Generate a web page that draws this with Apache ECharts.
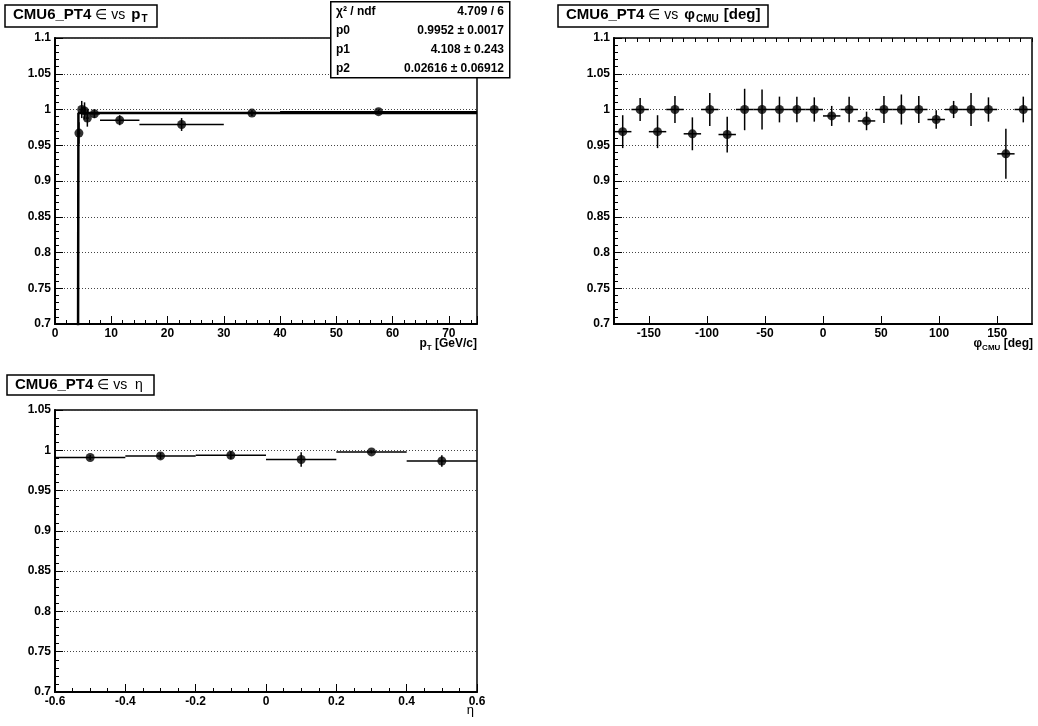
<!DOCTYPE html>
<html>
<head>
<meta charset="utf-8">
<script src="https://cdn.jsdelivr.net/npm/echarts@6/dist/echarts.min.js"></script>
<style>html,body{margin:0;padding:0;background:#fff}#c{width:1038px;height:726px}</style>
</head>
<body>
<div id="c"></div>
<script>
// ---- data: efficiency vs pT ----
const ptCenter = [4.25, 4.75, 5.25, 5.75, 7.0, 11.5, 22.5, 35, 57.5];
const ptLow    = [4.0, 4.5, 5.0, 5.5, 6.0, 8.0, 15.0, 30.0, 40.0];
const ptHigh   = [4.5, 5.0, 5.5, 6.0, 8.0, 15.0, 30.0, 40.0, 75.0];
const ptEff    = [0.967, 1.000, 0.998, 0.988, 0.994, 0.985, 0.979, 0.995, 0.997];
const ptErr    = [0.015, 0.012, 0.012, 0.012, 0.006, 0.007, 0.009, 0.004, 0.003];
// fit curve (step at p1, plateau p0)
const fitCurve = [[4.06, 0.5], [4.16, 0.9952], [75, 0.9952]];
const fitRows = [["χ² / ndf", "4.709 / 6"], ["p0", "0.9952 ± 0.0017"], ["p1", "4.108 ± 0.243"], ["p2", "0.02616 ± 0.06912"]];

// ---- data: efficiency vs phi_CMU ----
const phiCenter = [-172.5,-157.5,-142.5,-127.5,-112.5,-97.5,-82.5,-67.5,-52.5,-37.5,-22.5,-7.5,7.5,22.5,37.5,52.5,67.5,82.5,97.5,112.5,127.5,142.5,157.5,172.5];
const phiEff = [0.969,1.000,0.969,1.000,0.966,1.000,0.965,1.000,1.000,1.000,1.000,1.000,0.991,1.000,0.984,1.000,1.000,1.000,0.986,1.000,1.000,1.000,0.938,1.000];
const phiErr = [0.023,0.016,0.023,0.019,0.023,0.023,0.025,0.029,0.028,0.018,0.018,0.017,0.014,0.018,0.013,0.019,0.021,0.019,0.013,0.012,0.023,0.017,0.035,0.018];
const phiHalfWidth = 7.5;

// ---- data: efficiency vs eta ----
const etaCenter = [-0.5, -0.3, -0.1, 0.1, 0.3, 0.5];
const etaEff = [0.991, 0.993, 0.9938, 0.9885, 0.998, 0.9867];
const etaErr = [0.003, 0.004, 0.005, 0.009, 0.002, 0.007];
const etaHalfWidth = 0.1;

// ---- tick labels ----
const phiMajorTicks = [-150, -100, -50, 0, 50, 100, 150];

const FONT = "Liberation Sans";
const fmt = v => String(+(+v).toFixed(3));

function errRender(params, api) {
  const x = api.value(0), y = api.value(1), xl = api.value(2), xh = api.value(3), e = api.value(4);
  const pL = api.coord([xl, y]), pH = api.coord([xh, y]);
  const pT = api.coord([x, y + e]), pB = api.coord([x, y - e]);
  const st = { stroke: '#000', lineWidth: 1.5 };
  return { type: 'group', children: [
    { type: 'line', shape: { x1: pL[0], y1: pL[1], x2: pH[0], y2: pH[1] }, style: st },
    { type: 'line', shape: { x1: pT[0], y1: pT[1], x2: pB[0], y2: pB[1] }, style: st }
  ]};
}

const ptErrData = ptCenter.map((x, i) => [x, ptEff[i], ptLow[i], ptHigh[i], ptErr[i]]);
const phiErrData = phiCenter.map((x, i) => [x, phiEff[i], x - phiHalfWidth, x + phiHalfWidth, phiErr[i]]);
const etaErrData = etaCenter.map((x, i) => [x, etaEff[i], x - etaHalfWidth, x + etaHalfWidth, etaErr[i]]);

const axLabel = { color: '#000', fontFamily: FONT, fontWeight: 'bold', fontSize: 12, margin: 4, formatter: fmt };
const axLine = { show: true, onZero: false, lineStyle: { color: '#000', width: 2 } };
const tick = { show: true, inside: true, length: 8, lineStyle: { color: '#000', width: 1 } };
const minor = (n) => ({ show: true, splitNumber: n, length: 4, lineStyle: { color: '#000', width: 1 } });
const gridDots = { show: true, lineStyle: { color: '#444', width: 1, type: [1, 2] } };

function yAx(grid, max) {
  return { type: 'value', gridIndex: grid, min: 0.7, max: max, interval: 0.05,
    axisLine: axLine, axisTick: tick, minorTick: minor(5), axisLabel: axLabel,
    splitLine: gridDots };
}

const titleBox = { backgroundColor: '#fff', borderColor: '#000', borderWidth: 1.5, padding: [3, 8, 3, 8] };
const titleRich = {
  b: { fontFamily: FONT, fontWeight: 'bold', fontSize: 15, color: '#000', lineHeight: 18 },
  bp: { fontFamily: FONT, fontWeight: 'bold', fontSize: 15, color: '#000', lineHeight: 18, padding: [0, 0, 0, 3] },
  s: { fontFamily: FONT, fontWeight: 'normal', fontSize: 14, color: '#000', lineHeight: 18, padding: [0, 3, 0, 4] },
  sub: { fontFamily: FONT, fontWeight: 'bold', fontSize: 10, color: '#000', lineHeight: 18, verticalAlign: 'bottom', padding: [0, 2, 0, 1] }
};
const axRich = {
  b: { fontFamily: FONT, fontWeight: 'bold', fontSize: 12, color: '#000', lineHeight: 16 },
  sub: { fontFamily: FONT, fontWeight: 'bold', fontSize: 8, color: '#000', lineHeight: 16, verticalAlign: 'bottom' },
  n: { fontFamily: FONT, fontWeight: 'normal', fontSize: 13, color: '#000', lineHeight: 16 }
};

const statsGraphic = [{ type: 'rect', left: 330, top: 1, z: 100,
  shape: { width: 179, height: 76 }, style: { fill: '#fff', stroke: '#000', lineWidth: 1.5 } }];
fitRows.forEach((r, i) => {
  statsGraphic.push({ type: 'text', x: 336, y: 12 + i * 19, z: 101,
    style: { text: r[0], fill: '#000', font: 'bold 12px ' + FONT, textVerticalAlign: 'middle', textAlign: 'left' } });
  statsGraphic.push({ type: 'text', x: 504, y: 12 + i * 19, z: 101,
    style: { text: r[1], fill: '#000', font: 'bold 12px ' + FONT, textVerticalAlign: 'middle', textAlign: 'right' } });
});

const option = {
  animation: false,
  backgroundColor: '#fff',
  title: [
    Object.assign({ left: 5, top: 3, text: '{b|CMU6_PT4}{s|∈ vs}{bp|p}{sub|T}', textStyle: { rich: titleRich } }, titleBox),
    Object.assign({ left: 558, top: 3, text: '{b|CMU6_PT4}{s|∈ vs}{bp|φ}{sub|CMU}{bp|[deg]}', textStyle: { rich: titleRich } }, titleBox),
    Object.assign({ left: 7, top: 373, text: '{b|CMU6_PT4}{s|∈ vs  η}', textStyle: { rich: titleRich } }, titleBox)
  ],
  graphic: statsGraphic.concat([
    { type: 'text', right: 1038 - 477, top: 338, style: { text: '{b|p}{sub|T} {b|[GeV/c]}', rich: axRich } },
    { type: 'text', right: 1038 - 1033, top: 338, style: { text: '{b|φ}{sub|CMU} {b|[deg]}', rich: axRich } },
    { type: 'text', right: 1038 - 474, top: 704, style: { text: '{n|η}', rich: axRich } }
  ]),
  grid: [
    { left: 55, top: 38, width: 422, height: 286, show: true, borderColor: '#000', borderWidth: 1.5 },
    { left: 614, top: 38, width: 418, height: 286, show: true, borderColor: '#000', borderWidth: 1.5 },
    { left: 55, top: 410, width: 422, height: 282, show: true, borderColor: '#000', borderWidth: 1.5 }
  ],
  xAxis: [
    { type: 'value', gridIndex: 0, min: 0, max: 75, interval: 10, axisLine: axLine, axisTick: tick,
      minorTick: minor(5), axisLabel: Object.assign({}, axLabel, { showMaxLabel: false }), splitLine: { show: false } },
    { type: 'value', gridIndex: 1, min: -180, max: 180, axisLine: axLine,
      axisTick: Object.assign({}, tick, { customValues: phiMajorTicks }),
      axisLabel: Object.assign({}, axLabel, { customValues: phiMajorTicks }), splitLine: { show: false } },
    { type: 'value', gridIndex: 1, min: -180, max: 180, interval: 10, axisLine: { show: false },
      axisTick: Object.assign({}, tick, { length: 4 }), axisLabel: { show: false }, splitLine: { show: false } },
    { type: 'value', gridIndex: 2, min: -0.6, max: 0.6, interval: 0.2, axisLine: axLine, axisTick: tick,
      minorTick: minor(4), axisLabel: axLabel, splitLine: { show: false } }
  ],
  yAxis: [ yAx(0, 1.1), yAx(1, 1.1), yAx(2, 1.05) ],
  series: [
    { type: 'line', xAxisIndex: 0, yAxisIndex: 0, data: fitCurve, symbol: 'none', clip: true,
      lineStyle: { color: '#000', width: 2.5 }, z: 3 },
    { type: 'custom', xAxisIndex: 0, yAxisIndex: 0, data: ptErrData, renderItem: errRender, clip: true,
      encode: { x: 0, y: 1 }, z: 4 },
    { type: 'scatter', xAxisIndex: 0, yAxisIndex: 0, data: ptCenter.map((x, i) => [x, ptEff[i]]),
      symbol: 'circle', symbolSize: 9, itemStyle: { color: '#000' }, z: 5 },
    { type: 'custom', xAxisIndex: 1, yAxisIndex: 1, data: phiErrData, renderItem: errRender, clip: true,
      encode: { x: 0, y: 1 }, z: 4 },
    { type: 'scatter', xAxisIndex: 1, yAxisIndex: 1, data: phiCenter.map((x, i) => [x, phiEff[i]]),
      symbol: 'circle', symbolSize: 9, itemStyle: { color: '#000' }, z: 5 },
    { type: 'custom', xAxisIndex: 3, yAxisIndex: 2, data: etaErrData, renderItem: errRender, clip: true,
      encode: { x: 0, y: 1 }, z: 4 },
    { type: 'scatter', xAxisIndex: 3, yAxisIndex: 2, data: etaCenter.map((x, i) => [x, etaEff[i]]),
      symbol: 'circle', symbolSize: 9, itemStyle: { color: '#000' }, z: 5 }
  ]
};
echarts.init(document.getElementById('c'), null, { renderer: 'canvas' }).setOption(option);
</script>
</body>
</html>
